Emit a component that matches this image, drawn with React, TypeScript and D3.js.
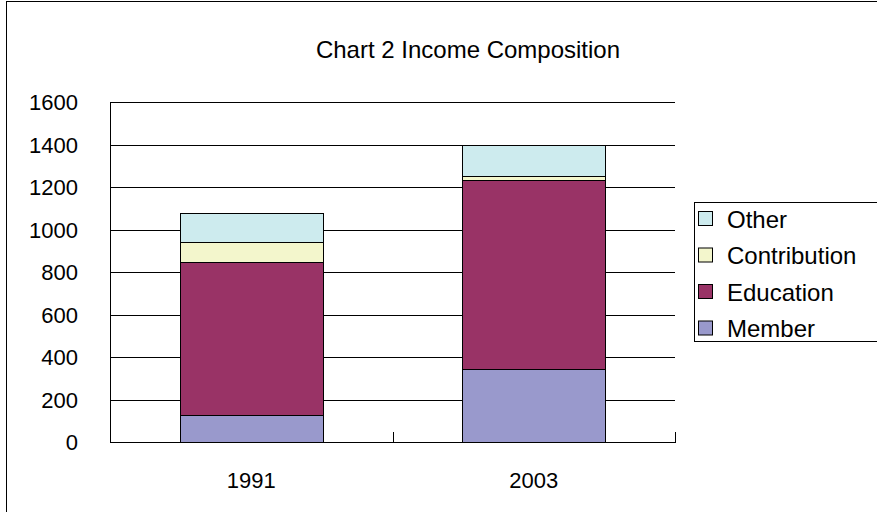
import React from "react";
import * as d3 from "d3";

// Income composition by year, stacked bottom-to-top
const years = ["1991", "2003"];
const seriesNames = ["Member", "Education", "Contribution", "Other"];
const member = [127, 345];
const education = [720, 888];
const contribution = [93, 20];
const other = [139, 146];
const yTicks = [0, 200, 400, 600, 800, 1000, 1200, 1400, 1600];
const seriesColors = ["#9999CC", "#993366", "#F3F6CC", "#CDEBEE"];
const legendOrder = ["Other", "Contribution", "Education", "Member"];
const title = "Chart 2 Income Composition";

const W = 877;
const H = 512;
const plot = { left: 110, right: 675, top: 102, bottom: 442 };
const FONT = "'Liberation Sans', Arial, sans-serif";

export default function App() {
  const rows = years.map((year, i) => ({
    year,
    Member: member[i],
    Education: education[i],
    Contribution: contribution[i],
    Other: other[i],
  }));
  const stacked = d3.stack<any>().keys(seriesNames)(rows);

  const x = d3.scaleBand().domain(years).range([plot.left, plot.right]).padding(0);
  const y = d3.scaleLinear().domain([0, 1600]).range([plot.bottom, plot.top]);
  const color = d3.scaleOrdinal<string, string>().domain(seriesNames).range(seriesColors);
  const barW = x.bandwidth() * 0.507;

  return (
    <svg
      width={W}
      height={H}
      style={{ position: "absolute", left: 0, top: 0, background: "#fff" }}
      fontFamily={FONT}
    >
      <rect x={6.5} y={1.5} width={W + 10} height={H + 10} fill="#fff" stroke="#000" strokeWidth={1} />

      <text x={468} y={58} textAnchor="middle" fontSize={24} fill="#000">
        {title}
      </text>

      {/* horizontal gridlines and value labels */}
      {yTicks.map((t) => (
        <g key={t}>
          {t > 0 && (
            <line
              x1={plot.left}
              x2={plot.right}
              y1={Math.round(y(t)) + 0.5}
              y2={Math.round(y(t)) + 0.5}
              stroke="#000"
              strokeWidth={1}
            />
          )}
          <text x={78} y={y(t) + 8} textAnchor="end" fontSize={22} fill="#000">
            {t}
          </text>
        </g>
      ))}

      {/* stacked bars */}
      {stacked.map((layer) => (
        <g key={layer.key} fill={color(layer.key)}>
          {layer.map((d, i) => {
            const cx = (x(years[i]) as number) + x.bandwidth() / 2;
            return (
              <rect
                key={years[i]}
                x={Math.round(cx - barW / 2) + 0.5}
                y={Math.round(y(d[1])) + 0.5}
                width={Math.round(barW)}
                height={Math.round(y(d[0])) - Math.round(y(d[1]))}
                stroke="#000"
                strokeWidth={1}
              />
            );
          })}
        </g>
      ))}

      {/* axes */}
      <line x1={plot.left + 0.5} x2={plot.left + 0.5} y1={plot.top} y2={plot.bottom + 1} stroke="#000" />
      <line x1={plot.left} x2={plot.right + 1} y1={plot.bottom + 0.5} y2={plot.bottom + 0.5} stroke="#000" />
      {[...years.map((yr) => x(yr) as number), plot.right].map((px, i) => (
        <line
          key={i}
          x1={Math.round(px) + 0.5}
          x2={Math.round(px) + 0.5}
          y1={plot.bottom - 10}
          y2={plot.bottom + 1}
          stroke="#000"
        />
      ))}
      {years.map((yr) => (
        <text
          key={yr}
          x={(x(yr) as number) + x.bandwidth() / 2}
          y={488}
          textAnchor="middle"
          fontSize={22}
          fill="#000"
        >
          {yr}
        </text>
      ))}

      {/* legend */}
      <rect x={694.5} y={202.5} width={200} height={139} fill="#fff" stroke="#000" />
      {legendOrder.map((name, i) => {
        const cy = 219 + i * 36.5;
        return (
          <g key={name}>
            <rect x={698.5} y={cy - 7.5} width={14} height={14} fill={color(name)} stroke="#000" />
            <text x={727} y={cy + 8.5} fontSize={24} fill="#000">
              {name}
            </text>
          </g>
        );
      })}
    </svg>
  );
}
